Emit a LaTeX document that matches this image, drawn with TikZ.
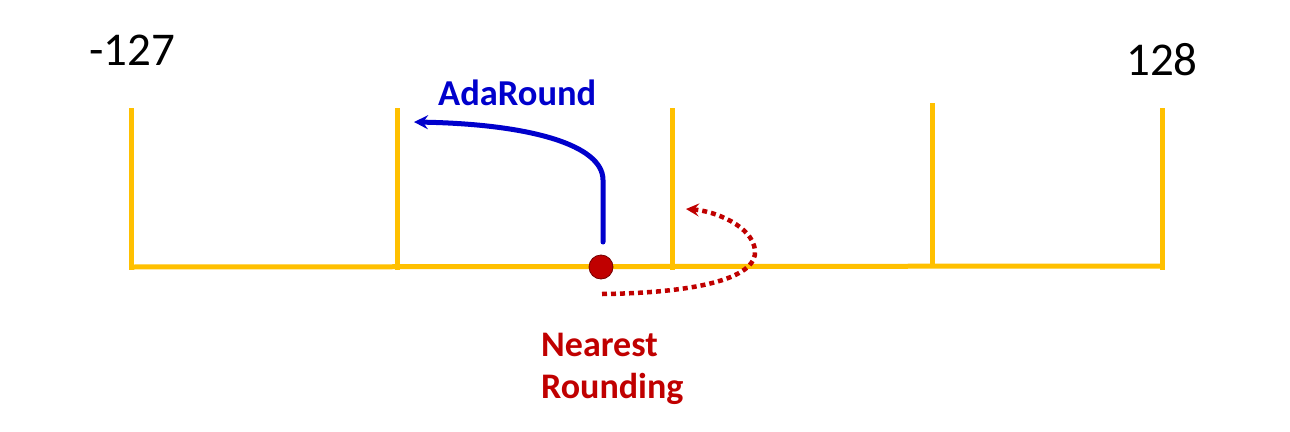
\documentclass[tikz,border=0pt]{standalone}
\usepackage{fontspec}
\setmainfont{Carlito}
\usetikzlibrary{arrows.meta}
\definecolor{tickyellow}{HTML}{FFC000}
\definecolor{adablue}{HTML}{0000CC}
\definecolor{nearred}{HTML}{C00000}
\tikzset{
  axisline/.style={draw=tickyellow,line width=5pt},
  numlabel/.style={inner sep=0pt,anchor=base west,font=\fontsize{47}{50}\selectfont,text=black},
  adalabel/.style={inner sep=0pt,anchor=base west,font=\fontsize{36.5}{42}\selectfont\bfseries,text=adablue},
  nearlabel/.style={inner sep=0pt,anchor=north west,align=left,font=\fontsize{36}{42}\selectfont\bfseries,text=nearred},
  adaarrow/.style={draw=adablue,line width=5pt,line cap=round,-{Stealth[length=14pt,width=14pt,inset=5pt]}},
  neararrow/.style={draw=nearred,line width=4.5pt,dash pattern=on 5pt off 4pt,-{Stealth[length=13pt,width=13pt,inset=5pt]}},
  valuedot/.style={circle,fill=nearred,draw=nearred!60!black,line width=0.8pt,minimum size=24pt,inner sep=0pt}
}
\begin{document}
\begin{tikzpicture}[x=1pt,y=-1pt]
\useasboundingbox (0,0) rectangle (1290,431);
% axis coordinates
\coordinate (b0) at (131,267);
\coordinate (b4) at (1162,266);
\coordinate (t0) at (131,108);
\coordinate (t1) at (397,108);
\coordinate (t2) at (672,108);
\coordinate (t3) at (932,103);
\coordinate (t4) at (1162,108);
\coordinate (u0) at (131,270);
\coordinate (u1) at (397,270);
\coordinate (u2) at (672,270);
\coordinate (u3) at (932,266);
\coordinate (u4) at (1162,270);
\draw[axisline] (b0) -- (b4);
\foreach \i in {0,...,4} { \draw[axisline] (t\i) -- (u\i); }
% labels
\node[numlabel] (lo) at (89,65) {-127};
\node[numlabel] (hi) at (1126,75) {128};
\node[adalabel] (ada) at (438,105) {AdaRound};
\node[nearlabel] (near) at (541,333) {Nearest\\Rounding};
% value dot
\node[valuedot] (dot) at (601,267) {};
% arrows
\coordinate (adastart) at (603,242);
\coordinate (adaend) at (414,122);
\draw[adaarrow] (adastart) -- (603,180) .. controls (603,145) and (530,124) .. (adaend);
\coordinate (nearstart) at (602,294);
\coordinate (nearend) at (686,209);
\draw[neararrow] (nearstart) .. controls (690,293) and (758,280) .. (755,250) .. controls (752,226) and (715,211) .. (nearend);
\end{tikzpicture}
\end{document}
